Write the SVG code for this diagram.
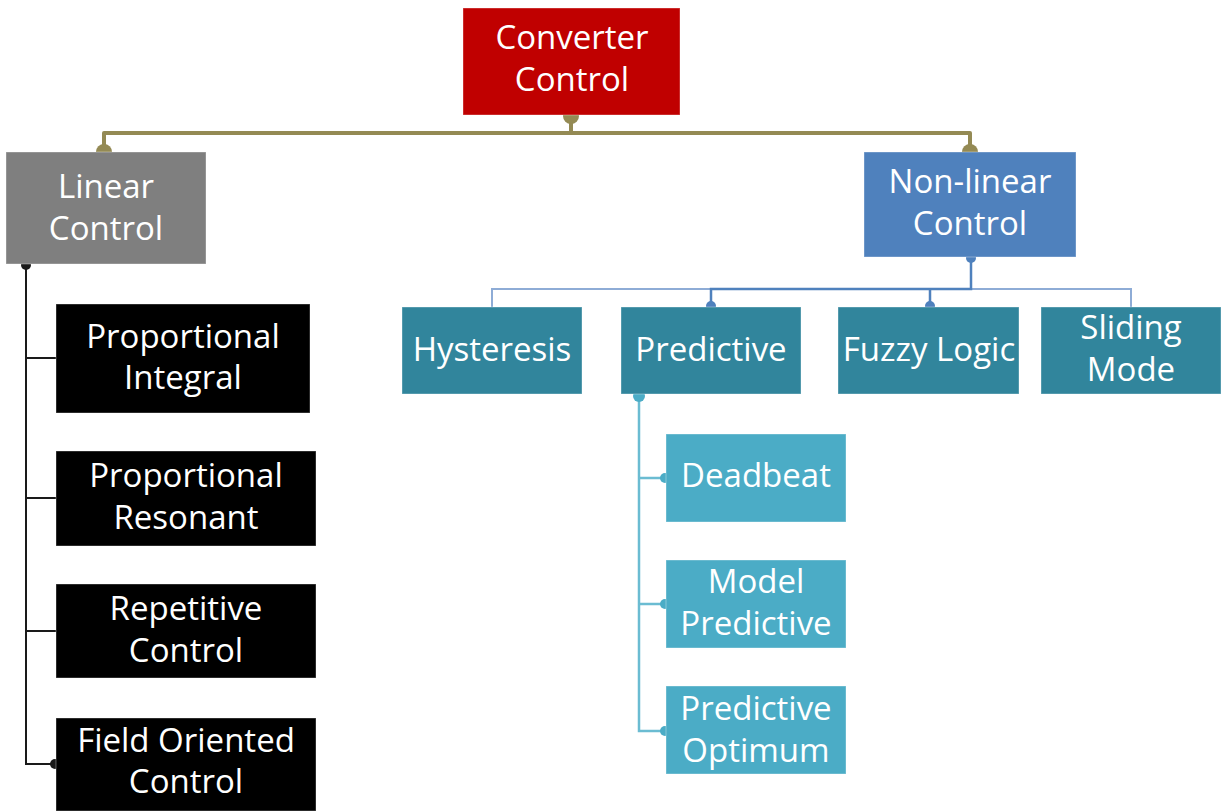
<svg xmlns="http://www.w3.org/2000/svg" width="1225" height="812" viewBox="0 0 1225 812">
<style>
  .t { font-family: "Open Sans", "Liberation Sans", sans-serif; font-size: 33px; fill: #ffffff; text-anchor: middle; }
  .box { stroke: #ffffff; stroke-opacity: 0.35; stroke-width: 1; }
  .olive { fill: none; stroke: #948A54; stroke-width: 4; stroke-linejoin: round; }
  .blk { fill: none; stroke: #1a1a1a; stroke-width: 2; }
  .blu { fill: none; stroke: #4F81BD; stroke-width: 2.5; }
  .blul { fill: none; stroke: #8EACD6; stroke-width: 2; }
  .cyan { fill: none; stroke: #6BBCD2; stroke-width: 2.5; }
</style>
<rect width="1225" height="812" fill="#ffffff"/>
<g id="connectors">
  <path class="olive" d="M571,115 V133 M104,152 V133 H970 V152"/>
  <circle cx="571" cy="116" r="8" fill="#948A54"/>
  <circle cx="104" cy="152" r="8" fill="#948A54"/>
  <circle cx="970" cy="152" r="8" fill="#948A54"/>
  <path class="blk" d="M26,264 V764 H55 M26,358 H56 M26,498 H56 M26,631 H56"/>
  <circle cx="26" cy="265" r="5" fill="#1a1a1a"/>
  <circle cx="55" cy="764" r="5" fill="#1a1a1a"/>
  <path class="blul" d="M492,307 V289 H1131 V307"/>
  <path class="blu" d="M971,257 V289 H711 V307 M930,289 V307"/>
  <circle cx="971" cy="258" r="5" fill="#4F81BD"/>
  <circle cx="711" cy="306" r="5" fill="#4F81BD"/>
  <circle cx="930" cy="306" r="5" fill="#4F81BD"/>
  <path class="cyan" d="M639,395 V731 H666 M639,478 H666 M639,604 H666"/>
  <circle cx="639" cy="396" r="6" fill="#4BACC6"/>
  <circle cx="665" cy="478" r="5" fill="#4BACC6"/>
  <circle cx="665" cy="604" r="5" fill="#4BACC6"/>
  <circle cx="665" cy="731" r="5" fill="#4BACC6"/>
</g>
<g id="converter-control">
  <rect class="box" x="463" y="8" width="217" height="107" fill="#C00000"/>
  <text class="t" x="572" y="49">Converter</text>
  <text class="t" x="572" y="91">Control</text>
</g>
<g id="linear-control">
  <rect class="box" x="6" y="152" width="200" height="112" fill="#7F7F7F"/>
  <text class="t" x="106" y="198">Linear</text>
  <text class="t" x="106" y="240">Control</text>
</g>
<g id="non-linear-control">
  <rect class="box" x="864" y="152" width="212" height="105" fill="#4F81BD"/>
  <text class="t" x="970" y="193">Non-linear</text>
  <text class="t" x="970" y="235">Control</text>
</g>
<g id="proportional-integral">
  <rect class="box" x="56" y="304" width="254" height="109" fill="#000000"/>
  <text class="t" x="183" y="348">Proportional</text>
  <text class="t" x="183" y="389">Integral</text>
</g>
<g id="proportional-resonant">
  <rect class="box" x="56" y="451" width="260" height="95" fill="#000000"/>
  <text class="t" x="186" y="487">Proportional</text>
  <text class="t" x="186" y="529">Resonant</text>
</g>
<g id="repetitive-control">
  <rect class="box" x="56" y="584" width="260" height="94" fill="#000000"/>
  <text class="t" x="186" y="620">Repetitive</text>
  <text class="t" x="186" y="662">Control</text>
</g>
<g id="field-oriented-control">
  <rect class="box" x="56" y="718" width="260" height="93" fill="#000000"/>
  <text class="t" x="186" y="752">Field Oriented</text>
  <text class="t" x="186" y="793">Control</text>
</g>
<g id="hysteresis">
  <rect class="box" x="402" y="307" width="180" height="87" fill="#31859C"/>
  <text class="t" x="492" y="361">Hysteresis</text>
</g>
<g id="predictive">
  <rect class="box" x="621" y="307" width="180" height="87" fill="#31859C"/>
  <text class="t" x="711" y="361">Predictive</text>
</g>
<g id="fuzzy-logic">
  <rect class="box" x="838" y="307" width="181" height="87" fill="#31859C"/>
  <text class="t" x="929" y="361">Fuzzy Logic</text>
</g>
<g id="sliding-mode">
  <rect class="box" x="1041" y="307" width="180" height="87" fill="#31859C"/>
  <text class="t" x="1131" y="339">Sliding</text>
  <text class="t" x="1131" y="381">Mode</text>
</g>
<g id="deadbeat">
  <rect class="box" x="666" y="434" width="180" height="88" fill="#4BACC6"/>
  <text class="t" x="756" y="487">Deadbeat</text>
</g>
<g id="model-predictive">
  <rect class="box" x="666" y="560" width="180" height="88" fill="#4BACC6"/>
  <text class="t" x="756" y="593">Model</text>
  <text class="t" x="756" y="635">Predictive</text>
</g>
<g id="predictive-optimum">
  <rect class="box" x="666" y="686" width="180" height="88" fill="#4BACC6"/>
  <text class="t" x="756" y="720">Predictive</text>
  <text class="t" x="756" y="762">Optimum</text>
</g>
</svg>
